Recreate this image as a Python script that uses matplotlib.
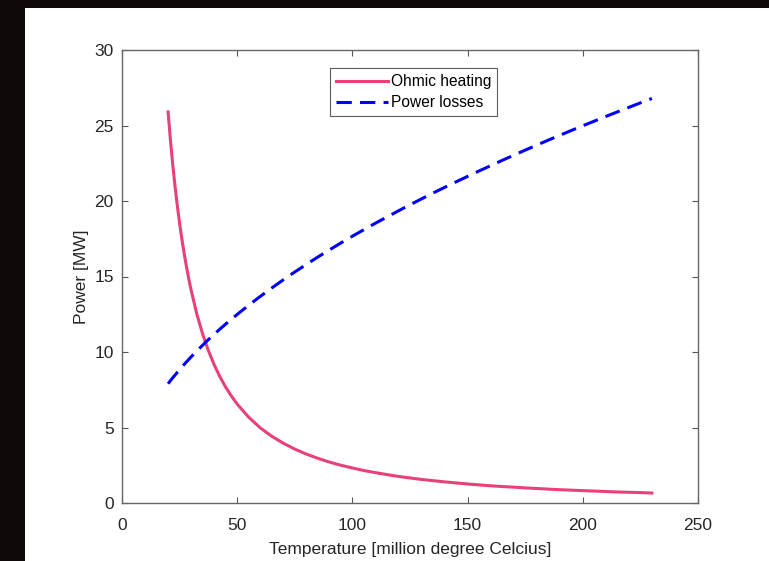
import matplotlib
matplotlib.use("Agg")
import matplotlib.pyplot as plt

temperature = [20, 21, 22, 23, 24, 25, 26, 27, 28, 29, 30, 32.5, 35, 37.5, 40, 42.5, 45,
               47.5, 50, 55, 60, 65, 70, 75, 80, 85, 90, 95, 100,
               105, 110, 115, 120, 125, 130, 135, 140, 145, 150, 155, 160, 165, 170,
               175, 180, 185, 190, 195, 200, 205, 210, 215, 220, 225, 230]
ohmic_heating = [25.90, 24.07, 22.45, 21.00, 19.70, 18.53, 17.47, 16.51, 15.64, 14.83,
                 14.10, 12.50, 11.19, 10.09, 9.16, 8.36, 7.67, 7.08, 6.55, 5.68, 4.98,
                 4.42, 3.96, 3.57, 3.24, 2.96, 2.71, 2.50, 2.32, 2.15, 2.01, 1.88, 1.76,
                 1.66, 1.56, 1.48, 1.40, 1.33, 1.26, 1.20, 1.14, 1.09, 1.05, 1.00, 0.96,
                 0.92, 0.88, 0.85, 0.82, 0.79, 0.76, 0.73, 0.71, 0.69, 0.66]
power_losses = [7.90, 8.10, 8.29, 8.47, 8.65, 8.83, 9.01, 9.18, 9.35, 9.51, 9.68, 10.07,
                10.45, 10.82, 11.17, 11.52, 11.85, 12.17, 12.49, 13.10, 13.68, 14.24,
                14.78, 15.30, 15.80, 16.29, 16.76, 17.22, 17.67, 18.10, 18.53, 18.94,
                19.35, 19.75, 20.14, 20.53, 20.90, 21.27, 21.63, 21.99, 22.34, 22.69,
                23.03, 23.37, 23.70, 24.03, 24.35, 24.67, 24.98, 25.29, 25.60, 25.90,
                26.20, 26.50, 26.79]
x_ticks = [0, 50, 100, 150, 200, 250]
y_ticks = [0, 5, 10, 15, 20, 25, 30]

plt.rcParams['font.family'] = ['Liberation Sans', 'DejaVu Sans']

W, H = 769, 561
fig = plt.figure(figsize=(W / 100, H / 100), dpi=100, facecolor='#0e0906')
bg = fig.add_axes([25 / W, 0, 1 - 25 / W, (H - 8) / H], zorder=-1)
bg.set_facecolor('white')
bg.set_xticks([])
bg.set_yticks([])
for s in bg.spines.values():
    s.set_visible(False)

ax = fig.add_axes([122 / W, (H - 503) / H, (698 - 122) / W, (503 - 50) / H], zorder=1)
ax.plot(temperature, ohmic_heating, color='#E8407A', lw=2.2, label='Ohmic heating')
ax.plot(temperature, power_losses, color='#0000FF', lw=2.2, ls=(0, (5.0, 2.7)),
        label='Power losses')

ax.set_xlim(0, 250)
ax.set_ylim(0, 30)
ax.set_xticks(x_ticks)
ax.set_yticks(y_ticks)
ax.tick_params(direction='in', top=True, right=True, length=4, width=0.8,
               colors='#555555', labelcolor='#262626', labelsize=12.5)
ax.tick_params(axis='x', pad=11)
ax.tick_params(axis='y', pad=6)
for s in ax.spines.values():
    s.set_color('#666666')
    s.set_linewidth(1.0)

ax.set_xlabel('Temperature [million degree Celcius]', fontsize=12.5, color='#262626', labelpad=6)
ax.set_ylabel('Power [MW]', fontsize=12.5, color='#262626', labelpad=4)

leg = ax.legend(loc='upper left', bbox_to_anchor=(330 / W, (H - 68) / H),
                bbox_transform=fig.transFigure, fontsize=11.2, frameon=True,
                fancybox=False, handlelength=3.3, handletextpad=0.2,
                borderpad=0.4, labelspacing=0.38, borderaxespad=0)
leg.get_frame().set_edgecolor('#333333')
leg.get_frame().set_linewidth(0.8)
for t in leg.get_texts():
    t.set_color('#000000')

fig.savefig('out.png', dpi=100, facecolor=fig.get_facecolor())
